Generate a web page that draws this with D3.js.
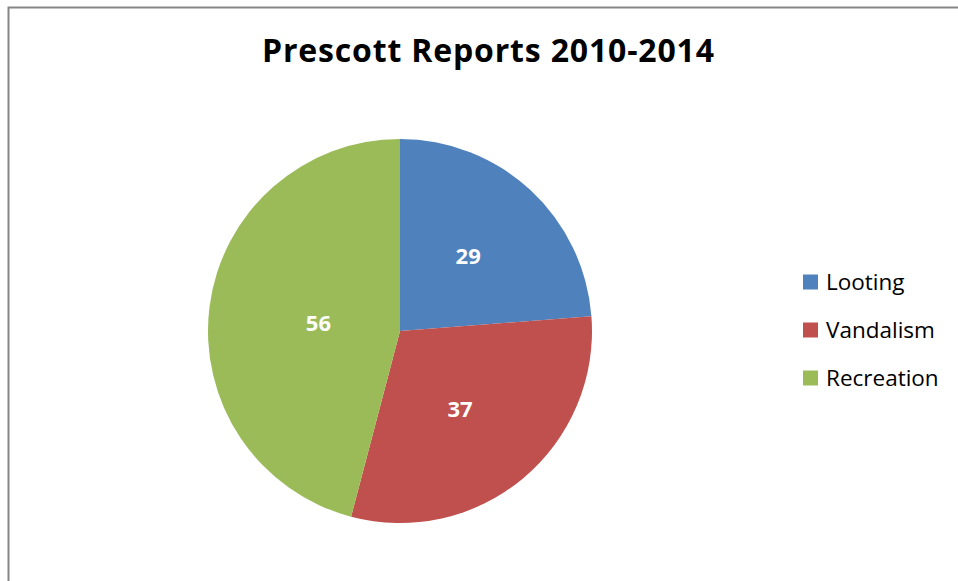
<!DOCTYPE html>
<html>
<head>
<meta charset="utf-8">
<script src="https://cdn.jsdelivr.net/npm/d3@7"></script>
<style>
  html, body { margin: 0; padding: 0; background: #fff; }
  svg { display: block; }
</style>
</head>
<body>
<svg id="chart" width="958" height="581"></svg>
<script>
const title = "Prescott Reports 2010-2014";
const categories = ["Looting", "Vandalism", "Recreation"];
const values = [29, 37, 56];
const colors = ["#4F81BD", "#C0504D", "#9BBB59"];

const W = 958, H = 581;
const svg = d3.select("#chart");

// outer chart frame (extends past the right and bottom of the view)
svg.append("rect")
  .attr("x", 8.5).attr("y", 7.5)
  .attr("width", 1100).attr("height", 800)
  .attr("fill", "#fff")
  .attr("stroke", "#868686")
  .attr("stroke-width", 2);

svg.append("text")
  .attr("x", 488).attr("y", 62)
  .attr("text-anchor", "middle")
  .attr("font-family", "'Open Sans', sans-serif")
  .attr("font-weight", "bold")
  .attr("font-size", 32)
  .attr("textLength", 452)
  .attr("lengthAdjust", "spacing")
  .attr("fill", "#000")
  .text(title);

const cx = 400, cy = 331, R = 192;
const data = categories.map((c, i) => ({ name: c, value: values[i], color: colors[i] }));

const pie = d3.pie().value(d => d.value).sort(null);
const arc = d3.arc().innerRadius(0).outerRadius(R);
const arcs = pie(data);

const g = svg.append("g").attr("transform", `translate(${cx},${cy})`);

g.selectAll("path.slice")
  .data(arcs)
  .enter().append("path")
  .attr("class", "slice")
  .attr("d", arc)
  .attr("fill", d => d.data.color);

// label at (scaled) area centroid of each sector
function labelPos(d) {
  const theta = d.endAngle - d.startAngle;
  const mid = (d.startAngle + d.endAngle) / 2;
  const dist = 0.9 * 4 * R * Math.sin(theta / 2) / (3 * theta);
  return [dist * Math.sin(mid), -dist * Math.cos(mid)];
}

g.selectAll("text.lbl")
  .data(arcs)
  .enter().append("text")
  .attr("class", "lbl")
  .attr("x", d => labelPos(d)[0] - 3)
  .attr("y", d => labelPos(d)[1] + 2)
  .attr("dy", "0.36em")
  .attr("text-anchor", "middle")
  .attr("font-family", "'Open Sans', sans-serif")
  .attr("font-weight", "bold")
  .attr("font-size", 22)
  .attr("fill", "#fff")
  .text(d => d.data.value);

// legend
const legendY = d3.scalePoint().domain(categories).range([282, 378]);
const lg = svg.append("g");
const items = lg.selectAll("g.item")
  .data(data)
  .enter().append("g")
  .attr("class", "item")
  .attr("transform", d => `translate(803,${legendY(d.name)})`);
items.append("rect")
  .attr("x", 0).attr("y", -7.5)
  .attr("width", 15).attr("height", 15)
  .attr("fill", d => d.color);
items.append("text")
  .attr("x", 23).attr("y", 0)
  .attr("dy", "0.35em")
  .attr("font-family", "'Open Sans', sans-serif")
  .attr("font-size", 22.5)
  .attr("fill", "#000")
  .text(d => d.name);
</script>
</body>
</html>
